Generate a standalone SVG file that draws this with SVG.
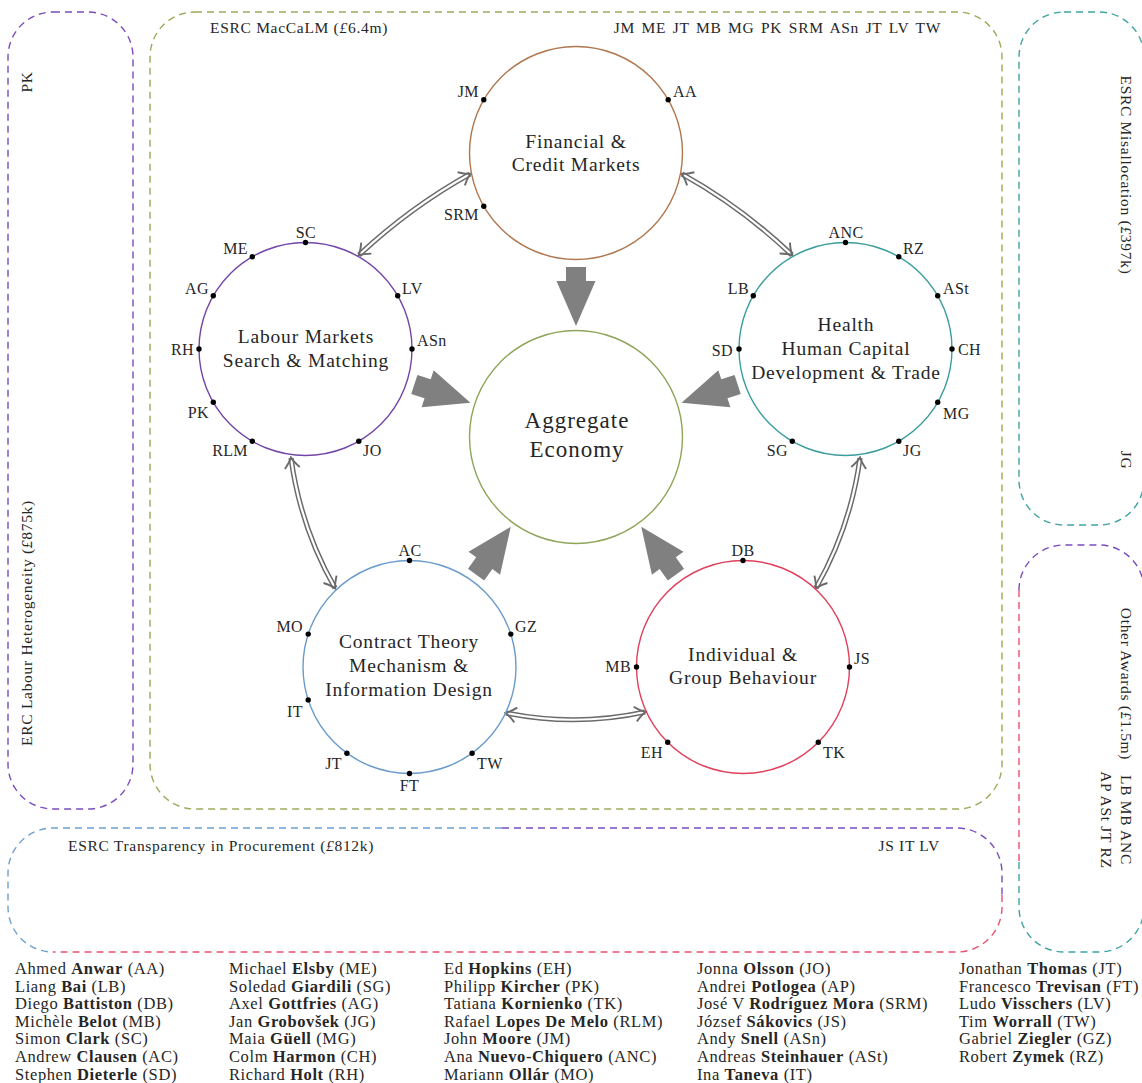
<svg xmlns="http://www.w3.org/2000/svg" width="1142" height="1083" viewBox="0 0 1142 1083">
<style>
  text { font-family: "Liberation Serif", "Times New Roman", serif; fill: #262626; }
  .lab { font-size: 16px; letter-spacing: 0.4px; }
  .ttl { font-size: 19.5px; letter-spacing: 0.8px; text-anchor: middle; }
  .big { font-size: 23px; letter-spacing: 1px; text-anchor: middle; }
  .hdr { font-size: 15.5px; letter-spacing: 0.7px; }
  .leg { font-size: 16.5px; letter-spacing: 0.6px; }
  .mid { text-anchor: middle; }
  .end { text-anchor: end; }
  .it { font-style: italic; }
  .b { font-weight: bold; }
  .box { fill: none; stroke-width: 1.4; stroke-dasharray: 7 5; }
  .ring { fill: none; stroke-width: 1.4; }
  .dot { fill: #000; }
  .dout { fill: none; stroke: #6a6a6a; stroke-width: 5.2; }
  .din { fill: none; stroke: #fff; stroke-width: 2.2; }
  .dtip { fill: none; stroke: none; marker-start: url(#chev); marker-end: url(#chev); }
  .fat { fill: #808080; }
</style>
<defs>
  <marker id="chev" viewBox="-14 -11 16 22" refX="0" refY="0" markerWidth="16" markerHeight="22" markerUnits="userSpaceOnUse" orient="auto-start-reverse">
    <path d="M -10,-7.5 Q -4,-2 0.5,0 Q -4,2 -10,7.5" fill="none" stroke="#6a6a6a" stroke-width="1.9"/>
  </marker>
</defs>
<rect width="1142" height="1083" fill="#fff"/>

<!-- funding frames -->
<g id="frames">
  <g id="erc-labour">
    <rect class="box" x="8" y="12" width="125" height="797" rx="45" ry="45" stroke="#7a4cbf"/>
    <text class="hdr mid" transform="translate(32,82) rotate(-90)">PK</text>
    <text class="hdr mid" transform="translate(32,623) rotate(-90)">ERC Labour Heterogeneity (<tspan class="it">£</tspan>875k)</text>
  </g>
  <g id="esrc-maccalm">
    <rect class="box" x="150" y="12" width="852" height="797" rx="45" ry="45" stroke="#9aab5c"/>
    <text class="hdr" x="210" y="33">ESRC MacCaLM (<tspan class="it">£</tspan>6.4m)</text>
    <text class="hdr end" x="941" y="33" word-spacing="2">JM ME JT MB MG PK SRM ASn JT LV TW</text>
  </g>
  <g id="esrc-misallocation">
    <rect class="box" x="1019" y="12" width="125" height="513" rx="45" ry="45" stroke="#3fa3a3"/>
    <text class="hdr mid" transform="translate(1121,175) rotate(90)">ESRC Misallocation (<tspan class="it">£</tspan>397k)</text>
    <text class="hdr mid" transform="translate(1121,460) rotate(90)">JG</text>
  </g>
  <g id="other-awards">
    <path class="box" stroke="#7a4cbf" d="M 1019,590 A 45 45 0 0 1 1064,545 H 1099 A 45 45 0 0 1 1144,590"/>
    <path class="box" stroke="#e8506e" d="M 1019,590 V 862"/>
    <path class="box" stroke="#3fa3a3" d="M 1019,862 V 907 A 45 45 0 0 0 1064,952 H 1099 A 45 45 0 0 0 1144,907"/>
    <text class="hdr mid" transform="translate(1121,684) rotate(90)">Other Awards (<tspan class="it">£</tspan>1.5m)</text>
    <text class="hdr mid" transform="translate(1121,820) rotate(90)">LB MB ANC</text>
    <text class="hdr mid" transform="translate(1101,820) rotate(90)">AP ASt JT RZ</text>
  </g>
  <g id="esrc-transparency">
    <path class="box" stroke="#6ea1d1" d="M 502,828 H 53 A 45 45 0 0 0 8,873 V 907 A 45 45 0 0 0 53,952"/>
    <path class="box" stroke="#7a4cbf" d="M 502,828 H 957 A 45 45 0 0 1 1002,873 V 895"/>
    <path class="box" stroke="#e8506e" d="M 1002,895 V 907 A 45 45 0 0 1 957,952 H 53"/>
    <text class="hdr" x="68" y="851">ESRC Transparency in Procurement (<tspan class="it">£</tspan>812k)</text>
    <text class="hdr end" x="940" y="851">JS IT LV</text>
  </g>
</g>

<!-- connectors -->
<g id="connectors">
  <g id="fat-arrows">
    <polygon class="fat" points="566,267 586,267 586,281 595.5,281 576,326 556.5,281 566,281"/>
    <polygon class="fat" transform="rotate(-72 576 437)" points="566,267 586,267 586,281 595.5,281 576,326 556.5,281 566,281"/>
    <polygon class="fat" transform="rotate(72 576 437)" points="566,267 586,267 586,281 595.5,281 576,326 556.5,281 566,281"/>
    <polygon class="fat" transform="rotate(-144 576 437)" points="566,267 586,267 586,281 595.5,281 576,326 556.5,281 566,281"/>
    <polygon class="fat" transform="rotate(144 576 437)" points="566,267 586,267 586,281 595.5,281 576,326 556.5,281 566,281"/>
  </g>
  <g id="links">
    <path class="dout" d="M 470,174 Q 410.5,207 359,255"/>
    <path class="din" d="M 470,174 Q 410.5,207 359,255"/>
    <path class="dtip" d="M 470,174 Q 410.5,207 359,255"/>

    <path class="dout" d="M 682,174 Q 741.5,207 792,255"/>
    <path class="din" d="M 682,174 Q 741.5,207 792,255"/>
    <path class="dtip" d="M 682,174 Q 741.5,207 792,255"/>

    <path class="dout" d="M 291,458 Q 300.4,527.3 335,588"/>
    <path class="din" d="M 291,458 Q 300.4,527.3 335,588"/>
    <path class="dtip" d="M 291,458 Q 300.4,527.3 335,588"/>

    <path class="dout" d="M 860,458 Q 850.6,527.3 816,588"/>
    <path class="din" d="M 860,458 Q 850.6,527.3 816,588"/>
    <path class="dtip" d="M 860,458 Q 850.6,527.3 816,588"/>

    <path class="dout" d="M 506,713 Q 575.5,727 645,712"/>
    <path class="din" d="M 506,713 Q 575.5,727 645,712"/>
    <path class="dtip" d="M 506,713 Q 575.5,727 645,712"/>
  </g>
</g>

<!-- nodes -->
<g id="aggregate">
  <circle class="ring" cx="576" cy="437" r="106.5" stroke="#8ea55a"/>
  <text class="big" x="577" y="428">Aggregate</text>
  <text class="big" x="577" y="457">Economy</text>
</g>

<g id="financial">
  <circle class="ring" cx="576" cy="153" r="106.5" stroke="#b0774f"/>
  <text class="ttl" x="576" y="148">Financial &amp;</text>
  <text class="ttl" x="576" y="171">Credit Markets</text>
  <circle class="dot" cx="483.8" cy="99.8" r="2.7"/><text class="lab end" x="479" y="97">JM</text>
  <circle class="dot" cx="668.2" cy="99.8" r="2.7"/><text class="lab" x="673" y="97">AA</text>
  <circle class="dot" cx="483.8" cy="206.3" r="2.7"/><text class="lab end" x="479" y="220">SRM</text>
</g>

<g id="labour">
  <circle class="ring" cx="305.5" cy="349" r="106.5" stroke="#7345a8"/>
  <text class="ttl" x="306" y="343">Labour Markets</text>
  <text class="ttl" x="306" y="367">Search &amp; Matching</text>
  <circle class="dot" cx="305.5" cy="242.5" r="2.7"/><text class="lab mid" x="306" y="238">SC</text>
  <circle class="dot" cx="252.3" cy="256.8" r="2.7"/><text class="lab end" x="248" y="254">ME</text>
  <circle class="dot" cx="213.3" cy="295.8" r="2.7"/><text class="lab end" x="209" y="293.5">AG</text>
  <circle class="dot" cx="199" cy="349" r="2.7"/><text class="lab end" x="194" y="355">RH</text>
  <circle class="dot" cx="213.3" cy="402.3" r="2.7"/><text class="lab end" x="209" y="418">PK</text>
  <circle class="dot" cx="252.3" cy="441.2" r="2.7"/><text class="lab end" x="248" y="455.5">RLM</text>
  <circle class="dot" cx="358.8" cy="441.2" r="2.7"/><text class="lab" x="363" y="455.5">JO</text>
  <circle class="dot" cx="412" cy="349" r="2.7"/><text class="lab" x="417" y="346">ASn</text>
  <circle class="dot" cx="397.7" cy="295.8" r="2.7"/><text class="lab" x="402" y="294">LV</text>
</g>

<g id="health">
  <circle class="ring" cx="845.5" cy="349" r="106.5" stroke="#3b9d9d"/>
  <text class="ttl" x="846" y="331">Health</text>
  <text class="ttl" x="846" y="355">Human Capital</text>
  <text class="ttl" x="846" y="379">Development &amp; Trade</text>
  <circle class="dot" cx="845.5" cy="242.5" r="2.7"/><text class="lab mid" x="846" y="238">ANC</text>
  <circle class="dot" cx="898.8" cy="256.8" r="2.7"/><text class="lab" x="903" y="253.5">RZ</text>
  <circle class="dot" cx="937.7" cy="295.8" r="2.7"/><text class="lab" x="943" y="294">ASt</text>
  <circle class="dot" cx="952" cy="349" r="2.7"/><text class="lab" x="958" y="355">CH</text>
  <circle class="dot" cx="937.7" cy="402.3" r="2.7"/><text class="lab" x="943" y="418.5">MG</text>
  <circle class="dot" cx="898.8" cy="441.2" r="2.7"/><text class="lab" x="903" y="455.5">JG</text>
  <circle class="dot" cx="792.3" cy="441.2" r="2.7"/><text class="lab end" x="788" y="455.5">SG</text>
  <circle class="dot" cx="739" cy="349" r="2.7"/><text class="lab end" x="733" y="355.5">SD</text>
  <circle class="dot" cx="753.3" cy="295.8" r="2.7"/><text class="lab end" x="749" y="294">LB</text>
</g>

<g id="contract">
  <circle class="ring" cx="409.5" cy="667" r="106.5" stroke="#6a9bcc"/>
  <text class="ttl" x="409" y="648">Contract Theory</text>
  <text class="ttl" x="409" y="672">Mechanism &amp;</text>
  <text class="ttl" x="409" y="696">Information Design</text>
  <circle class="dot" cx="409.5" cy="560.5" r="2.7"/><text class="lab mid" x="410" y="556">AC</text>
  <circle class="dot" cx="510.8" cy="634.1" r="2.7"/><text class="lab" x="515" y="631.5">GZ</text>
  <circle class="dot" cx="472.1" cy="753.2" r="2.7"/><text class="lab" x="477" y="769">TW</text>
  <circle class="dot" cx="409.5" cy="773.5" r="2.7"/><text class="lab mid" x="409.5" y="790.5">FT</text>
  <circle class="dot" cx="346.9" cy="753.2" r="2.7"/><text class="lab end" x="342" y="769">JT</text>
  <circle class="dot" cx="308.2" cy="699.9" r="2.7"/><text class="lab end" x="303" y="716.5">IT</text>
  <circle class="dot" cx="308.2" cy="634.1" r="2.7"/><text class="lab end" x="303" y="631.5">MO</text>
</g>

<g id="individual">
  <circle class="ring" cx="743" cy="667" r="106.5" stroke="#e0405c"/>
  <text class="ttl" x="743" y="661">Individual &amp;</text>
  <text class="ttl" x="743" y="684">Group Behaviour</text>
  <circle class="dot" cx="743" cy="560.5" r="2.7"/><text class="lab mid" x="743" y="555.5">DB</text>
  <circle class="dot" cx="849.5" cy="667" r="2.7"/><text class="lab" x="854" y="663.5">JS</text>
  <circle class="dot" cx="818.3" cy="742.3" r="2.7"/><text class="lab" x="823" y="758">TK</text>
  <circle class="dot" cx="667.7" cy="742.3" r="2.7"/><text class="lab end" x="663" y="758">EH</text>
  <circle class="dot" cx="636.5" cy="667" r="2.7"/><text class="lab end" x="631" y="672">MB</text>
</g>

<!-- legend -->
<g id="legend">
  <g id="legend-col1">
    <text class="leg" x="15" y="974">Ahmed <tspan class="b">Anwar</tspan> (AA)</text>
    <text class="leg" x="15" y="991.6">Liang <tspan class="b">Bai</tspan> (LB)</text>
    <text class="leg" x="15" y="1009.2">Diego <tspan class="b">Battiston</tspan> (DB)</text>
    <text class="leg" x="15" y="1026.8">Michèle <tspan class="b">Belot</tspan> (MB)</text>
    <text class="leg" x="15" y="1044.4">Simon <tspan class="b">Clark</tspan> (SC)</text>
    <text class="leg" x="15" y="1062">Andrew <tspan class="b">Clausen</tspan> (AC)</text>
    <text class="leg" x="15" y="1079.6">Stephen <tspan class="b">Dieterle</tspan> (SD)</text>
  </g>
  <g id="legend-col2">
    <text class="leg" x="229" y="974">Michael <tspan class="b">Elsby</tspan> (ME)</text>
    <text class="leg" x="229" y="991.6">Soledad <tspan class="b">Giardili</tspan> (SG)</text>
    <text class="leg" x="229" y="1009.2">Axel <tspan class="b">Gottfries</tspan> (AG)</text>
    <text class="leg" x="229" y="1026.8">Jan <tspan class="b">Grobovšek</tspan> (JG)</text>
    <text class="leg" x="229" y="1044.4">Maia <tspan class="b">Güell</tspan> (MG)</text>
    <text class="leg" x="229" y="1062">Colm <tspan class="b">Harmon</tspan> (CH)</text>
    <text class="leg" x="229" y="1079.6">Richard <tspan class="b">Holt</tspan> (RH)</text>
  </g>
  <g id="legend-col3">
    <text class="leg" x="444" y="974">Ed <tspan class="b">Hopkins</tspan> (EH)</text>
    <text class="leg" x="444" y="991.6">Philipp <tspan class="b">Kircher</tspan> (PK)</text>
    <text class="leg" x="444" y="1009.2">Tatiana <tspan class="b">Kornienko</tspan> (TK)</text>
    <text class="leg" x="444" y="1026.8">Rafael <tspan class="b">Lopes De Melo</tspan> (RLM)</text>
    <text class="leg" x="444" y="1044.4">John <tspan class="b">Moore</tspan> (JM)</text>
    <text class="leg" x="444" y="1062">Ana <tspan class="b">Nuevo-Chiquero</tspan> (ANC)</text>
    <text class="leg" x="444" y="1079.6">Mariann <tspan class="b">Ollár</tspan> (MO)</text>
  </g>
  <g id="legend-col4">
    <text class="leg" x="697" y="974">Jonna <tspan class="b">Olsson</tspan> (JO)</text>
    <text class="leg" x="697" y="991.6">Andrei <tspan class="b">Potlogea</tspan> (AP)</text>
    <text class="leg" x="697" y="1009.2">José V <tspan class="b">Rodríguez Mora</tspan> (SRM)</text>
    <text class="leg" x="697" y="1026.8">József <tspan class="b">Sákovics</tspan> (JS)</text>
    <text class="leg" x="697" y="1044.4">Andy <tspan class="b">Snell</tspan> (ASn)</text>
    <text class="leg" x="697" y="1062">Andreas <tspan class="b">Steinhauer</tspan> (ASt)</text>
    <text class="leg" x="697" y="1079.6">Ina <tspan class="b">Taneva</tspan> (IT)</text>
  </g>
  <g id="legend-col5">
    <text class="leg" x="959" y="974">Jonathan <tspan class="b">Thomas</tspan> (JT)</text>
    <text class="leg" x="959" y="991.6">Francesco <tspan class="b">Trevisan</tspan> (FT)</text>
    <text class="leg" x="959" y="1009.2">Ludo <tspan class="b">Visschers</tspan> (LV)</text>
    <text class="leg" x="959" y="1026.8">Tim <tspan class="b">Worrall</tspan> (TW)</text>
    <text class="leg" x="959" y="1044.4">Gabriel <tspan class="b">Ziegler</tspan> (GZ)</text>
    <text class="leg" x="959" y="1062">Robert <tspan class="b">Zymek</tspan> (RZ)</text>
  </g>
</g>
</svg>
